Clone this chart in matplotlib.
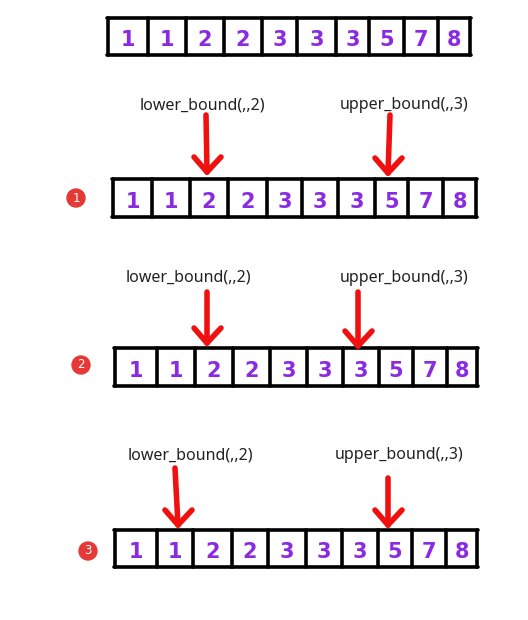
import matplotlib.pyplot as plt

# ============================================================
# DATA
# ============================================================
values = [1, 1, 2, 2, 3, 3, 3, 5, 7, 8]
step_labels = ["1", "2", "3"]
lower_text = "lower_bound(,,2)"
upper_text = "upper_bound(,,3)"

# ============================================================
# LAYOUT (pixel coords, y downwards)
# ============================================================
W, H = 528, 620
# cell edges per row (hand drawn, so slightly uneven)
row_edges = [
    [108, 148, 186, 224, 262, 297, 336, 369, 404, 438, 470],
    [113, 152, 190, 228, 267, 302, 338, 375, 408, 443, 476],
    [115, 157, 195, 233, 270, 307, 343, 379, 413, 447, 477],
    [115, 157, 193, 232, 268, 306, 342, 378, 412, 446, 477],
]
row_top = [18, 179, 348, 530]
row_bot = [55, 217, 386, 567]

badge_xy = [(76, 198), (81, 365), (88, 551)]
lower_label_xy = [(202, 105), (188, 278), (190, 455)]
upper_label_xy = [(404, 105), (404, 278), (399, 455)]
# arrows: (x_top, y_top, x_tip, y_tip)
lower_arrows = [(206, 115, 207, 172), (207, 292, 207, 343), (175, 468, 178, 525)]
upper_arrows = [(390, 115, 388, 173), (358, 292, 358, 346), (388, 478, 388, 525)]

purple = "#8a2be2"
red = "#f01010"
badge_red = "#e53935"

fig = plt.figure(figsize=(W / 100, H / 100), dpi=100)
ax = fig.add_axes([0, 0, 1, 1])
ax.set_xlim(0, W)
ax.set_ylim(H, 0)
ax.axis("off")


def draw_row(edges, top, bot):
    ax.plot([edges[0] - 1, edges[-1] + 1], [top, top], color="black", lw=2.6, solid_capstyle="round")
    ax.plot([edges[0] - 1, edges[-1] + 1], [bot, bot], color="black", lw=2.6, solid_capstyle="round")
    for x in edges:
        ax.plot([x, x], [top, bot], color="black", lw=2.6, solid_capstyle="round")
    for i, v in enumerate(values):
        cx = (edges[i] + edges[i + 1]) / 2
        ax.text(cx, (top + bot) / 2 + 4, str(v), color=purple, fontsize=15,
                fontweight="bold", ha="center", va="center", family="DejaVu Sans")


def draw_arrow(x0, y0, x1, y1):
    ax.plot([x0, x1], [y0, y1], color=red, lw=4, solid_capstyle="round")
    ax.plot([x1 - 13, x1], [y1 - 15, y1], color=red, lw=4, solid_capstyle="round")
    ax.plot([x1 + 14, x1], [y1 - 15, y1], color=red, lw=4, solid_capstyle="round")


for r in range(4):
    draw_row(row_edges[r], row_top[r], row_bot[r])

for k in range(3):
    bx, by = badge_xy[k]
    ax.add_patch(plt.Circle((bx, by), 9, color=badge_red))
    ax.text(bx, by, step_labels[k], color="white", fontsize=8.5, ha="center", va="center")

    lx, ly = lower_label_xy[k]
    ax.text(lx, ly, lower_text, fontsize=11.5, ha="center", va="center",
            family="Noto Sans", color="#222222")
    ux, uy = upper_label_xy[k]
    ax.text(ux, uy, upper_text, fontsize=11.5, ha="center", va="center",
            family="Noto Sans", color="#222222")

    draw_arrow(*lower_arrows[k])
    draw_arrow(*upper_arrows[k])

fig.savefig("out.png", dpi=100)
